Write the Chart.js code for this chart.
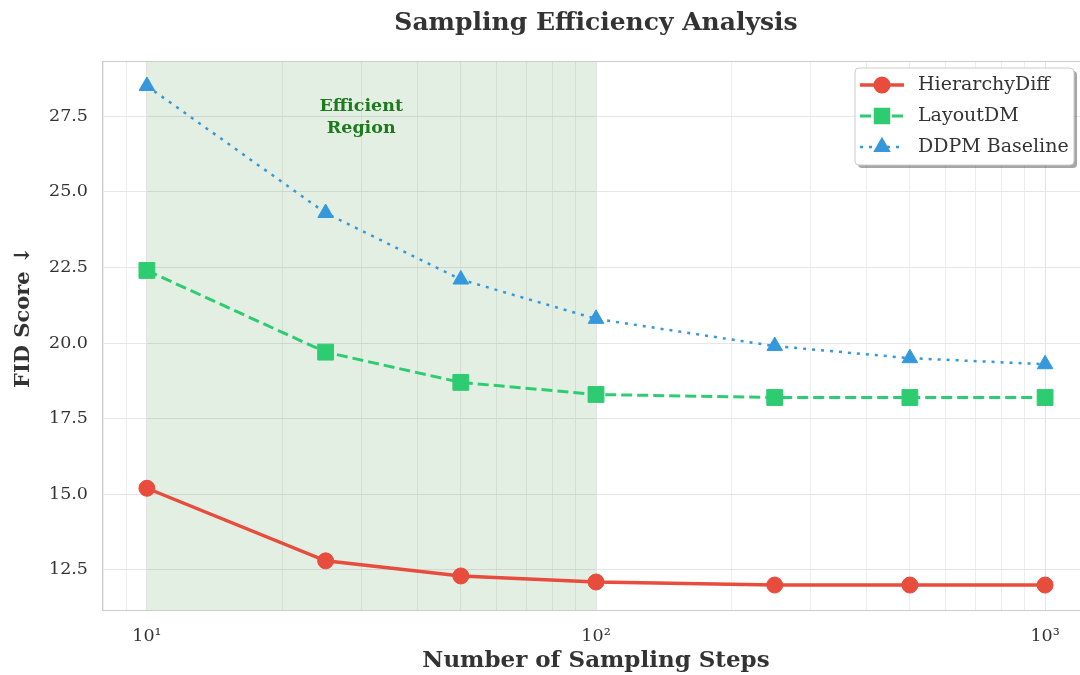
<!DOCTYPE html>
<html>
<head>
<meta charset="utf-8">
<script src="https://cdn.jsdelivr.net/npm/chart.js@4.4.0/dist/chart.umd.min.js"></script>
<style>
  html, body { margin: 0; padding: 0; background: #ffffff; overflow: hidden; }
  #wrap { width: 1080px; height: 675px; overflow: hidden; }
</style>
</head>
<body>
<div id="wrap"><canvas id="c" width="1092" height="675"></canvas></div>
<script>
// Sampling steps and FID scores per method
const steps = [10, 25, 50, 100, 250, 500, 1000];
const hierarchyDiff = [15.2, 12.8, 12.3, 12.1, 12.0, 12.0, 12.0];
const layoutDM = [22.4, 19.7, 18.7, 18.3, 18.2, 18.2, 18.2];
const ddpmBaseline = [28.5, 24.3, 22.1, 20.8, 19.9, 19.5, 19.3];
const seriesNames = ['HierarchyDiff', 'LayoutDM', 'DDPM Baseline'];

// Axis ticks
const yTicks = [12.5, 15.0, 17.5, 20.0, 22.5, 25.0, 27.5];
const xGridValues = [8, 9, 10, 20, 30, 40, 50, 60, 70, 80, 90, 100, 200, 300, 400, 500, 600, 700, 800, 900, 1000];
const xMajorValues = [10, 100, 1000];
const xMajorLabels = ['10¹', '10²', '10³'];

// Highlighted band and its label
const efficientRange = [10, 100];
const efficientLabelAt = [30, 27.5];
const efficientLabel = ['Efficient', 'Region'];

const FONT = "'DejaVu Serif', 'Liberation Serif', serif";
const TEXT = '#333333';

const toPoints = vals => steps.map((s, i) => ({ x: s, y: vals[i] }));

// Shaded "efficient" band plus its caption, drawn beneath the lines
const bandPlugin = {
  id: 'band',
  beforeDatasetsDraw(chart) {
    const { ctx, chartArea: a, scales: { x, y } } = chart;
    const x0 = x.getPixelForValue(efficientRange[0]);
    const x1 = x.getPixelForValue(efficientRange[1]);
    ctx.save();
    ctx.fillStyle = 'rgba(39, 128, 39, 0.13)';
    ctx.fillRect(x0, a.top, x1 - x0, a.bottom - a.top);
    const cx = x.getPixelForValue(efficientLabelAt[0]);
    const cy = y.getPixelForValue(efficientLabelAt[1]);
    ctx.fillStyle = '#1f7a1f';
    ctx.font = "bold 17.5px " + FONT;
    ctx.textAlign = 'center';
    ctx.textBaseline = 'middle';
    ctx.fillText(efficientLabel[0], cx, cy - 10);
    ctx.fillText(efficientLabel[1], cx, cy + 12);
    // top frame line
    ctx.strokeStyle = '#cccccc';
    ctx.lineWidth = 1;
    ctx.beginPath();
    ctx.moveTo(a.left, a.top + 0.5);
    ctx.lineTo(a.right, a.top + 0.5);
    ctx.stroke();
    ctx.restore();
  }
};

// Framed legend with line + marker samples
const legendPlugin = {
  id: 'lineLegend',
  afterDraw(chart) {
    const { ctx, chartArea: a } = chart;
    const w = 219, h = 97;
    const bx = a.right - 235, by = a.top + 7;
    ctx.save();
    const rr = (x, y, ww, hh, r) => {
      ctx.beginPath();
      ctx.moveTo(x + r, y);
      ctx.arcTo(x + ww, y, x + ww, y + hh, r);
      ctx.arcTo(x + ww, y + hh, x, y + hh, r);
      ctx.arcTo(x, y + hh, x, y, r);
      ctx.arcTo(x, y, x + ww, y, r);
      ctx.closePath();
    };
    ctx.fillStyle = 'rgba(0,0,0,0.35)';
    rr(bx + 3, by + 3, w, h, 4);
    ctx.fill();
    ctx.fillStyle = '#ffffff';
    rr(bx, by, w, h, 4);
    ctx.fill();
    ctx.strokeStyle = '#cccccc';
    ctx.lineWidth = 1;
    ctx.stroke();

    chart.data.datasets.forEach((ds, i) => {
      const rowY = by + 17 + i * 31;
      const lx0 = bx + 5, lx1 = bx + 49, mx = (lx0 + lx1) / 2;
      ctx.save();
      ctx.strokeStyle = ds.borderColor;
      ctx.lineWidth = ds.borderWidth;
      ctx.setLineDash(ds.borderDash || []);
      ctx.beginPath();
      ctx.moveTo(lx0, rowY);
      ctx.lineTo(lx1, rowY);
      ctx.stroke();
      ctx.setLineDash([]);
      ctx.fillStyle = ds.backgroundColor;
      ctx.strokeStyle = ds.borderColor;
      Chart.helpers.drawPoint(ctx, {
        pointStyle: ds.pointStyle, radius: ds.pointRadius * 0.85, rotation: 0, borderWidth: 1
      }, mx, rowY);
      ctx.restore();
      ctx.fillStyle = TEXT;
      ctx.font = "19px " + FONT;
      ctx.textAlign = 'left';
      ctx.textBaseline = 'middle';
      ctx.fillText(ds.label, bx + 63, rowY);
    });
    ctx.restore();
  }
};

new Chart(document.getElementById('c'), {
  type: 'line',
  data: {
    datasets: [
      {
        label: seriesNames[0], data: toPoints(hierarchyDiff),
        borderColor: '#e74c3c', backgroundColor: '#e74c3c', borderWidth: 3.5,
        pointStyle: 'circle', pointRadius: 8, pointBorderWidth: 1, tension: 0
      },
      {
        label: seriesNames[1], data: toPoints(layoutDM),
        borderColor: '#2ecc71', backgroundColor: '#2ecc71', borderWidth: 3, borderDash: [11, 5],
        pointStyle: 'rect', pointRadius: 11.2, pointBorderWidth: 1, tension: 0
      },
      {
        label: seriesNames[2], data: toPoints(ddpmBaseline),
        borderColor: '#3498db', backgroundColor: '#3498db', borderWidth: 2.5, borderDash: [3, 6],
        pointStyle: 'triangle', pointRadius: 9, pointBorderWidth: 1, tension: 0
      }
    ]
  },
  options: {
    responsive: false,
    animation: false,
    layout: { autoPadding: false, padding: { left: 0, right: 2, top: 0, bottom: 0 } },
    plugins: {
      legend: { display: false },
      tooltip: { enabled: false },
      title: {
        display: true,
        fullSize: false,
        text: 'Sampling Efficiency Analysis',
        color: TEXT,
        font: { family: FONT, size: 25, weight: 'bold' },
        padding: { top: 8, bottom: 23 }
      }
    },
    scales: {
      x: {
        type: 'logarithmic',
        min: 7.943,
        max: 1258.9,
        afterBuildTicks: s => { s.ticks = xGridValues.map(v => ({ value: v })); },
        afterFit: s => { s.height = 65; s.paddingLeft = 0; s.paddingRight = 0; },
        ticks: {
          autoSkip: false,
          maxRotation: 0,
          padding: 16,
          color: TEXT,
          font: { family: FONT, size: 17.5 },
          callback: v => {
            const k = xMajorValues.indexOf(v);
            return k >= 0 ? xMajorLabels[k] : '';
          }
        },
        grid: {
          drawTicks: false,
          color: ctx => (ctx.tick && xMajorValues.includes(ctx.tick.value)) ? '#e3e3e3' : '#ededed',
          lineWidth: 1
        },
        border: { display: true, color: '#cccccc' },
        title: {
          display: true,
          text: 'Number of Sampling Steps',
          color: TEXT,
          font: { family: FONT, size: 23, weight: 'bold' },
          padding: { top: 0, bottom: 0 }
        }
      },
      y: {
        type: 'linear',
        min: 11.175,
        max: 29.325,
        afterBuildTicks: s => { s.ticks = yTicks.map(v => ({ value: v })); },
        afterFit: s => { s.width = 102; s.paddingTop = 0; s.paddingBottom = 0; },
        ticks: {
          padding: 14,
          color: TEXT,
          font: { family: FONT, size: 17.5 },
          callback: v => v.toFixed(1)
        },
        grid: { drawTicks: false, color: '#e6e6e6', lineWidth: 1 },
        border: { display: true, color: '#cccccc' },
        title: {
          display: true,
          text: '     FID Score ↓',
          color: TEXT,
          font: { family: FONT, size: 21, weight: 'bold' },
          padding: { top: 11, bottom: 0 }
        }
      }
    }
  },
  plugins: [bandPlugin, legendPlugin]
});
</script>
</body>
</html>
